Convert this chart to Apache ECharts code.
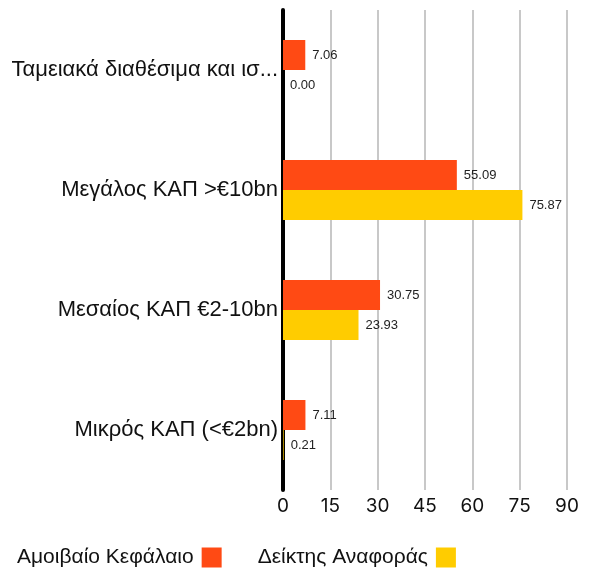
<!DOCTYPE html>
<html>
<head>
<meta charset="utf-8">
<script src="https://cdn.jsdelivr.net/npm/echarts@6/dist/echarts.min.js"></script>
<style>html,body{margin:0;padding:0;background:#fff}#c{width:590px;height:575px}</style>
</head>
<body>
<div id="c"></div>
<script>
const categories = ["Ταμειακά διαθέσιμα και ισ...", "Μεγάλος ΚΑΠ >€10bn", "Μεσαίος ΚΑΠ €2-10bn", "Μικρός ΚΑΠ (<€2bn)"];
const fundValues = [7.06, 55.09, 30.75, 7.11];
const benchValues = [0.00, 75.87, 23.93, 0.21];
const seriesNames = ["Αμοιβαίο Κεφάλαιο", "Δείκτης Αναφοράς"];

const chart = echarts.init(document.getElementById('c'));
const labelCfg = {
  show: true, position: 'right', distance: 7,
  formatter: p => p.value.toFixed(2),
  fontFamily: 'Liberation Sans', fontSize: 13, color: '#222'
};
chart.setOption({
  animation: false,
  grid: { left: 283, right: 23, top: 10, bottom: 85, containLabel: false },
  legend: {
    left: 12, bottom: 2, align: 'right', itemWidth: 20, itemHeight: 20, itemGap: 36,
    icon: 'rect',
    textStyle: { fontFamily: 'Liberation Sans', fontSize: 21, color: '#111', padding: [0, 3, 0, 0] },
    data: seriesNames
  },
  xAxis: {
    type: 'value', min: 0, max: 90, interval: 15,
    axisLine: { show: false }, axisTick: { show: false },
    splitLine: { show: true, lineStyle: { color: '#c8c8c8', width: 2 } },
    axisLabel: { fontFamily: 'Inter', fontSize: 19, color: '#111', margin: 7 }
  },
  yAxis: {
    type: 'category', data: categories, inverse: true,
    axisLine: { show: true, lineStyle: { color: '#000', width: 4 } },
    axisTick: { show: false },
    axisLabel: { fontFamily: 'Liberation Sans', fontSize: 22, color: '#111', margin: 5 }
  },
  series: [
    { name: seriesNames[0], type: 'bar', data: fundValues, barWidth: 30, barGap: '0%',
      itemStyle: { color: '#FF4A14' }, label: labelCfg },
    { name: seriesNames[1], type: 'bar', data: benchValues, barWidth: 30,
      itemStyle: { color: '#FFCC00' }, label: labelCfg }
  ]
});
</script>
</body>
</html>
